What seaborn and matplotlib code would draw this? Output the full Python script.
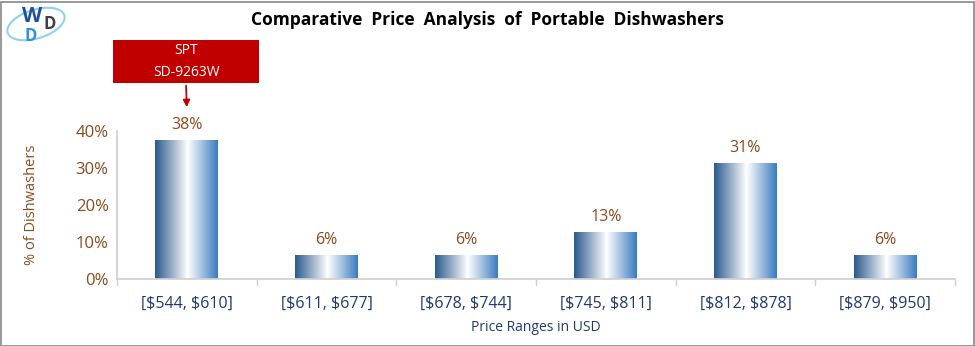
import numpy as np
import pandas as pd
import matplotlib
matplotlib.use("Agg")
import matplotlib.pyplot as plt
import seaborn as sns
from matplotlib.colors import LinearSegmentedColormap
from matplotlib.patches import Rectangle, Ellipse

categories = ["[$544, $610]", "[$611, $677]", "[$678, $744]", "[$745, $811]", "[$812, $878]", "[$879, $950]"]
shares = [37.5, 6.25, 6.25, 12.5, 31.25, 6.25]
value_labels = ["38%", "6%", "6%", "13%", "31%", "6%"]
yticks = [0, 10, 20, 30, 40]
ytick_labels = ["0%", "10%", "20%", "30%", "40%"]

df = pd.DataFrame({"range": categories, "share": shares})

sns.set_theme(style="white")
plt.rcParams['font.family'] = ['Open Sans', 'DejaVu Sans']
plt.rcParams['text.parse_math'] = False

fig = plt.figure(figsize=(9.75, 3.46), dpi=100)
ax = fig.add_axes([117/975, 1-279/346, (955-117)/975, (279-131)/346])

sns.barplot(data=df, x="range", y="share", ax=ax, width=0.45, color="#3a7bbf", saturation=1)

cmap = LinearSegmentedColormap.from_list("g", [(0, "#2a5a8c"), (0.52, "#ffffff"), (1, "#3a7bc0")])
grad = np.linspace(0, 1, 256).reshape(1, -1)
for p in ax.patches:
    x0, y0 = p.get_x(), p.get_y()
    w, h = p.get_width(), p.get_height()
    p.set_facecolor("none"); p.set_edgecolor("none")
    ax.imshow(grad, cmap=cmap, aspect="auto", extent=[x0, x0 + w, y0, y0 + h], zorder=2, interpolation="bilinear")

brown = "#8a4a1c"
navy = "#1f3a6e"
for i, (v, lab) in enumerate(zip(shares, value_labels)):
    ax.text(i, v + 2.0, lab, ha="center", va="bottom", color=brown, fontsize=11.5)

ax.set_xlim(-0.5, len(categories) - 0.5)
ax.set_ylim(0, 40)
ax.set_yticks(yticks)
ax.set_yticklabels(ytick_labels, color=brown, fontsize=12)
ax.set_xticks(range(len(categories)))
ax.set_xticklabels(categories, color=navy, fontsize=11.5)
ax.tick_params(axis="x", length=0, pad=12)
ax.tick_params(axis="y", length=0, pad=6)
for b in np.arange(-0.5, len(categories), 1.0):
    ax.plot([b, b], [0, -1.5], color="#d0d0d0", lw=1, clip_on=False)

for s in ["top", "right"]:
    ax.spines[s].set_visible(False)
ax.spines["left"].set_color("#d0d0d0")
ax.spines["bottom"].set_color("#d0d0d0")
ax.set_xlabel("Price Ranges in USD", color=navy, fontsize=10, labelpad=6)
ax.set_ylabel("% of Dishwashers", color=brown, fontsize=10.5, labelpad=26)

fig.text(0.5, 1 - 20/346, "Comparative  Price  Analysis  of  Portable  Dishwashers",
         ha="center", va="center", fontsize=12.5, fontweight="bold", color="black")

# annotation box
fig.patches.append(Rectangle((113/975, 1-83/346), 146/975, 43/346, transform=fig.transFigure,
                             facecolor="#c00000", edgecolor="none"))
fig.text(186/975, 1-51/346, "SPT", ha="center", va="center", color="white", fontsize=10)
fig.text(186/975, 1-72/346, "SD-9263W", ha="center", va="center", color="white", fontsize=10)
ax.annotate("", xy=(0, shares[0] + 8.2), xycoords="data",
            xytext=(186/975, 1-83/346), textcoords="figure fraction",
            arrowprops=dict(arrowstyle="-|>", color="#c00000", lw=1.3, mutation_scale=10), annotation_clip=False)

# logo
fig.patches.append(Ellipse((36/975, 1-24/346), 50/975, 34/346, angle=-20, transform=fig.transFigure,
                           facecolor="none", edgecolor="#8fd0f4", lw=1.5))
fig.text(32/975, 1-16/346, "W", ha="center", va="center", color="#1e4fa0", fontsize=15, fontweight="bold")
fig.text(50/975, 1-24/346, "D", ha="center", va="center", color="#404040", fontsize=12, fontweight="bold")
fig.text(31/975, 1-36/346, "D", ha="center", va="center", color="#2f8fe0", fontsize=12, fontweight="bold")

# border
fig.patches.append(Rectangle((0.5/975, 0.5/346), 973/975, 344/346, transform=fig.transFigure,
                             facecolor="none", edgecolor="#888888", lw=1.2))

fig.savefig("out.png", dpi=100)
